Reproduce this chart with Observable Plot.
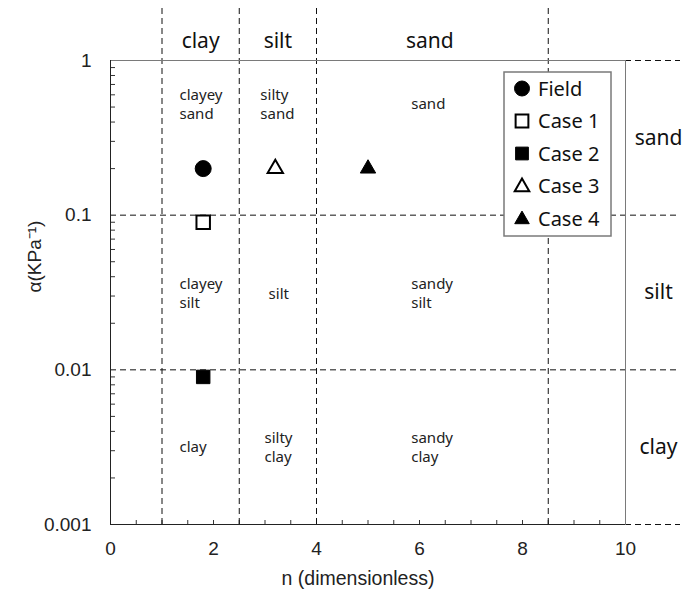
<!DOCTYPE html>
<html>
<head>
<meta charset="utf-8">
<script src="https://cdn.jsdelivr.net/npm/d3@7"></script>
<script src="https://cdn.jsdelivr.net/npm/@observablehq/plot@0.6"></script>
<style>
  html, body { margin: 0; padding: 0; background: #fff; }
  #chart svg { display: block; }
</style>
</head>
<body>
<div id="chart"></div>
<script>
// ---- data ----
const cases = ["Field", "Case 1", "Case 2", "Case 3", "Case 4"];
const nValues = [1.8, 1.8, 1.8, 3.2, 5.0];
const alphaValues = [0.2, 0.09, 0.009, 0.2, 0.2];
const caseSymbols = ["circle", "square", "square", "triangle", "triangle"];
const caseFilled = [true, false, true, false, true];

const nBounds = [1, 2.5, 4, 8.5];
const alphaBounds = [0.1, 0.01];
const alphaEdges = [1, 0.001];

const topLabels = ["clay", "silt", "sand"];
const topLabelN = [1.75, 3.25, 6.2];
const rightLabels = ["sand", "silt", "clay"];
const rightLabelAlpha = [0.316, 0.0316, 0.00316];

const regionLabels = ["clayey\nsand", "silty\nsand", "sand",
                      "clayey\nsilt", "silt", "sandy\nsilt",
                      "clay", "silty\nclay", "sandy\nclay"];
const regionN = [1.34, 2.91, 5.84, 1.34, 3.07, 5.84, 1.34, 2.99, 5.84];
const regionAlpha = [0.53, 0.53, 0.53, 0.0316, 0.0316, 0.0316, 0.0032, 0.0032, 0.0032];

const xTickValues = [0, 2, 4, 6, 8, 10];
const xMinorTicks = [0.5, 1, 1.5, 2, 2.5, 3, 3.5, 4, 4.5, 5, 5.5, 6, 6.5, 7, 7.5, 8, 8.5, 9, 9.5];
const yTickValues = [1, 0.1, 0.01, 0.001];
const yMinorTicks = [0.002, 0.003, 0.004, 0.005, 0.006, 0.007, 0.008, 0.009,
                     0.02, 0.03, 0.04, 0.05, 0.06, 0.07, 0.08, 0.09,
                     0.2, 0.3, 0.4, 0.5, 0.6, 0.7, 0.8, 0.9];

const xLabel = "n (dimensionless)";
const yLabel = "α(KPa⁻¹)";

// ---- build ----
const points = cases.map((c, i) => ({
  name: c, n: nValues[i], alpha: alphaValues[i],
  symbol: caseSymbols[i], filled: caseFilled[i]
}));
const rSize = {circle: 8, square: 7.6, triangle: 5.7};

const W = 683, H = 593;
const mL = 110, mR = 58, mT = 60, mB = 69;
const frameW = W - mL - mR, frameH = H - mT - mB;
const dash = "6,4";
const axisFont = "'Liberation Sans', Arial, sans-serif";
const labelFont = "'Noto Sans', sans-serif";

const marks = [
  // minor ticks (inward)
  Plot.ruleX(xMinorTicks, {x: d => d, insetTop: frameH - 4, stroke: "#333"}),
  Plot.ruleY(yMinorTicks, {y: d => d, insetRight: frameW - 5, stroke: "#333"}),
  // class boundaries
  Plot.ruleX(nBounds, {x: d => d, insetTop: -52, stroke: "#111", strokeDasharray: dash}),
  Plot.ruleY(alphaBounds, {y: d => d, insetRight: -55, stroke: "#111", strokeDasharray: dash}),
  Plot.ruleY(alphaEdges, {y: d => d, insetLeft: frameW, insetRight: -55, stroke: "#111", strokeDasharray: dash}),
  // frame
  Plot.frame({stroke: "#7a7a7a"}),
  Plot.ruleX([0], {stroke: "#222"}),
  Plot.ruleY([0.001], {stroke: "#222"}),
  // axes
  Plot.axisX({ticks: xTickValues, tickSize: 0, tickPadding: 17, label: null,
    fontSize: 19, fontFamily: axisFont, fill: "#222"}),
  Plot.axisY({ticks: yTickValues, tickSize: 0, tickPadding: 19, label: null,
    tickFormat: d => String(d), fontSize: 19, fontFamily: axisFont, fill: "#222"}),
  Plot.text([xLabel], {frameAnchor: "bottom", dy: 54, dx: -10, fontSize: 19.5,
    fontFamily: axisFont, fill: "#222", lineAnchor: "middle"}),
  Plot.text([yLabel], {frameAnchor: "left", dx: -76, rotate: -90, fontSize: 19,
    fontFamily: axisFont, fill: "#222", lineAnchor: "middle"}),
  // class labels
  Plot.text(topLabels, {x: (d, i) => topLabelN[i], frameAnchor: "top", dy: -19,
    fontSize: 21, fontFamily: labelFont, fill: "#111", lineAnchor: "middle"}),
  Plot.text(rightLabels, {y: (d, i) => rightLabelAlpha[i], frameAnchor: "right", dx: 33,
    textAnchor: "middle",
    fontSize: 21, fontFamily: labelFont, fill: "#111", lineAnchor: "middle"}),
  Plot.text(regionLabels, {x: (d, i) => regionN[i], y: (d, i) => regionAlpha[i],
    textAnchor: "start", lineAnchor: "middle", lineHeight: 1.27,
    fontSize: 15, fontFamily: labelFont, fill: "#222"}),
  // data points
  ...points.map(p => Plot.dot([p], {x: "n", y: "alpha", symbol: p.symbol, r: rSize[p.symbol],
    fill: p.filled ? "#000" : "#fff", stroke: "#000", strokeWidth: p.filled ? 1 : 2}))
];

const chart = Plot.plot({
  width: W, height: H,
  marginLeft: mL, marginRight: mR, marginTop: mT, marginBottom: mB,
  x: {domain: [0, 10], axis: null},
  y: {type: "log", domain: [0.001, 1], axis: null},
  clip: false,
  style: {background: "#fff", overflow: "visible"},
  marks
});

// ---- legend (drawn on top) ----
const svg = d3.select(chart);
const lg = svg.append("g").attr("transform", "translate(504,72)");
lg.append("rect").attr("width", 107).attr("height", 164)
  .attr("fill", "#fff").attr("stroke", "#7a7a7a").attr("stroke-width", 1.5);
const legendSymbolR = {circle: 7.5, square: 7.2, triangle: 5.4};
const symType = {circle: d3.symbolCircle, square: d3.symbolSquare, triangle: d3.symbolTriangle};
points.forEach((p, i) => {
  const cy = 16.5 + i * 32.5;
  const r = legendSymbolR[p.symbol];
  lg.append("path")
    .attr("d", d3.symbol(symType[p.symbol], Math.PI * r * r)())
    .attr("transform", `translate(18,${cy + (p.symbol === "triangle" ? 1 : 0)})`)
    .attr("fill", p.filled ? "#000" : "#fff")
    .attr("stroke", "#000").attr("stroke-width", p.filled ? 1 : 2);
  lg.append("text").attr("x", 34).attr("y", cy).attr("dy", "0.35em")
    .attr("text-anchor", "start")
    .attr("font-family", labelFont).attr("font-size", 20).attr("fill", "#111")
    .text(p.name);
});

document.getElementById("chart").appendChild(chart);
</script>
</body>
</html>
